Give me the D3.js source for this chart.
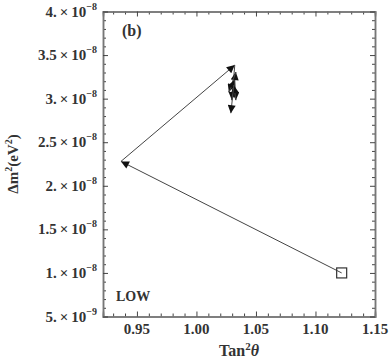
<!DOCTYPE html>
<html>
<head>
<meta charset="utf-8">
<script src="https://cdn.jsdelivr.net/npm/d3@7"></script>
<style>
  body { margin: 0; background: #fff; }
  svg { display: block; }
  text { font-family: "Liberation Serif", "DejaVu Serif", serif; fill: #333; }
</style>
</head>
<body>
<div id="container"><svg></svg></div>
<script>
let width = 392;
let height = 362;

// path of the fit (tan^2 theta, delta m^2)
let tan2 = [1.122, 0.9366, 1.0322, 1.0297, 1.0331, 1.0272, 1.0322, 1.0331, 1.0314, 1.0289];
let dm2 = [1.0e-8, 2.28e-8, 3.385e-8, 2.983e-8, 3.305e-8, 3.075e-8, 3.213e-8, 2.983e-8, 3.155e-8, 2.833e-8];

// tick labels
let xTicks = [0.95, 1.00, 1.05, 1.10, 1.15];
let yTicks = [5e-9, 1e-8, 1.5e-8, 2e-8, 2.5e-8, 3e-8, 3.5e-8, 4e-8];
let yMant = ["5.", "1.", "1.5", "2.", "2.5", "3.", "3.5", "4."];
let yExp = ["\u22129", "\u22128", "\u22128", "\u22128", "\u22128", "\u22128", "\u22128", "\u22128"];

function draw_graph() {
    let svg = d3.select('#container').select('svg')
        .attr('width', width)
        .attr('height', height);

    let left = 103, right = 375, top = 11.5, bottom = 316.5;

    let x = d3.scaleLinear().domain([0.9215, 1.15]).range([left, right]);
    let y = d3.scaleLinear().domain([5e-9, 4e-8]).range([bottom, top]);

    let minorX = d3.range(0.93, 1.1501, 0.01).filter(v => !xTicks.some(t => Math.abs(t - v) < 1e-6));
    let minorY = d3.range(6e-9, 4.0e-8, 1e-9).filter(v => !yTicks.some(t => Math.abs(t - v) < 1e-12));

    // frame + ticks (inward, mirrored)
    function tickAxis(axisFn, scale, ticks, size, transform) {
        let g = svg.append('g')
            .attr('transform', transform)
            .call(axisFn(scale).tickValues(ticks).tickSize(size).tickFormat(''));
        g.select('.domain').attr('stroke', '#777').attr('stroke-width', 1.5);
        g.selectAll('.tick line').attr('stroke', '#444').attr('stroke-width', 1);
        return g;
    }
    tickAxis(d3.axisBottom, x, minorX, -3, `translate(0,${bottom})`);
    tickAxis(d3.axisBottom, x, xTicks, -5, `translate(0,${bottom})`);
    tickAxis(d3.axisTop, x, minorX, -3, `translate(0,${top})`);
    tickAxis(d3.axisTop, x, xTicks, -5, `translate(0,${top})`);
    tickAxis(d3.axisLeft, y, minorY, -3, `translate(${left},0)`);
    tickAxis(d3.axisLeft, y, yTicks, -5, `translate(${left},0)`);
    tickAxis(d3.axisRight, y, minorY, -3, `translate(${right},0)`);
    tickAxis(d3.axisRight, y, yTicks, -5, `translate(${right},0)`);

    // x tick labels
    svg.append('g').selectAll('text')
        .data(xTicks)
        .join('text')
        .attr('x', d => x(d))
        .attr('y', bottom + 17)
        .attr('text-anchor', 'middle')
        .attr('font-size', 15)
        .attr('font-weight', 'bold')
        .text(d => d3.format('.2f')(d));

    // y tick labels  a.b x 10^-n
    let yl = svg.append('g').selectAll('text')
        .data(yTicks)
        .join('text')
        .attr('x', left - 6)
        .attr('y', d => y(d) + 5)
        .attr('text-anchor', 'end')
        .attr('font-size', 15)
        .attr('font-weight', 'bold');
    yl.append('tspan').text((d, i) => yMant[i] + '\u2009\u00d7\u200910');
    yl.append('tspan').attr('dy', -7).attr('font-size', 10).text((d, i) => yExp[i]);

    // axis titles
    let xt = svg.append('text')
        .attr('x', (left + right) / 2)
        .attr('y', 356)
        .attr('text-anchor', 'middle')
        .attr('font-size', 16)
        .attr('font-weight', 'bold');
    xt.append('tspan').text('Tan');
    xt.append('tspan').attr('dy', -6).attr('font-size', 11).text('2');
    xt.append('tspan').attr('dy', 6).attr('font-style', 'italic').text('\u03b8');

    let yt = svg.append('text')
        .attr('transform', `translate(18,${(top + bottom) / 2}) rotate(-90)`)
        .attr('text-anchor', 'middle')
        .attr('font-size', 15)
        .attr('font-weight', 'bold');
    yt.append('tspan').text('\u0394m');
    yt.append('tspan').attr('dy', -6).attr('font-size', 10).text('2');
    yt.append('tspan').attr('dy', 6).text('(eV');
    yt.append('tspan').attr('dy', -6).attr('font-size', 10).text('2');
    yt.append('tspan').attr('dy', 6).text(')');

    // panel labels
    svg.append('text').attr('x', 122).attr('y', 36)
        .attr('font-size', 16).attr('font-weight', 'bold').text('(b)');
    svg.append('text').attr('x', 116).attr('y', 301)
        .attr('font-size', 14).attr('font-weight', 'bold').text('LOW');

    // arrow head
    svg.append('defs').append('marker')
        .attr('id', 'arrow')
        .attr('viewBox', '0 0 10 10')
        .attr('refX', 10).attr('refY', 5)
        .attr('markerUnits', 'userSpaceOnUse')
        .attr('markerWidth', 10).attr('markerHeight', 8)
        .attr('orient', 'auto')
        .append('path')
        .attr('d', 'M0,0 L10,5 L0,10 z')
        .attr('fill', '#111');

    let pts = tan2.map((t, i) => [t, dm2[i]]);
    let segs = d3.pairs(pts);

    svg.append('g').selectAll('line')
        .data(segs)
        .join('line')
        .attr('x1', d => x(d[0][0]))
        .attr('y1', d => y(d[0][1]))
        .attr('x2', d => x(d[1][0]))
        .attr('y2', d => y(d[1][1]))
        .attr('stroke', '#444')
        .attr('stroke-width', 1)
        .attr('marker-end', 'url(#arrow)');

    // starting point
    svg.append('rect')
        .attr('x', x(tan2[0]) - 5)
        .attr('y', y(dm2[0]) - 5)
        .attr('width', 10).attr('height', 10)
        .attr('fill', 'none')
        .attr('stroke', '#333')
        .attr('stroke-width', 1.2);
}

draw_graph();
</script>
</body>
</html>
